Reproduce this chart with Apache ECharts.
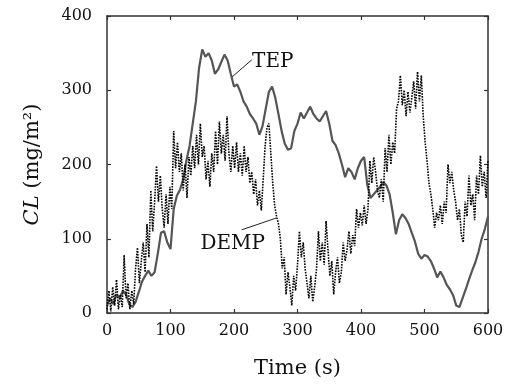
<!DOCTYPE html>
<html>
<head>
<meta charset="utf-8">
<script src="https://cdn.jsdelivr.net/npm/echarts@6/dist/echarts.min.js"></script>
<style>
html,body{margin:0;padding:0;background:#fff;}
#chart{width:508px;height:385px;}
</style>
</head>
<body>
<div id="chart"></div>
<script>
// Time step (s) of each sampled series
const tepStep = 5;
const dempStep = 3;

// TEP concentration, sampled every 5 s from t = 0 to 600
const tepValues = [
  10,20,12,25,20,30,25,12,8,15,
  28,42,50,57,50,55,80,108,110,95,
  86,140,158,166,180,205,225,255,285,330,
  355,345,350,340,322,328,338,348,340,322,
  305,308,298,285,278,268,262,255,240,252,
  275,298,305,290,268,245,228,220,222,245,
  255,270,262,270,278,268,262,258,265,272,
  255,232,226,215,200,183,195,190,180,195,
  205,210,172,155,160,165,170,176,172,160,
  135,106,125,133,128,120,108,96,80,73,
  78,76,70,60,48,56,48,38,32,24,
  10,8,20,32,45,57,68,82,100,113,
  130
];

// DEMP concentration, sampled every 3 s from t = 0 to 600
const dempValues = [
  5,30,2,35,10,45,5,25,8,78,
  20,40,5,30,12,60,88,40,70,95,
  55,120,75,165,110,150,198,150,185,140,
  115,160,120,170,140,245,195,230,190,215,
  165,200,155,210,185,225,195,240,200,255,
  210,225,180,205,170,215,190,245,200,258,
  215,240,205,265,215,190,225,195,230,190,
  215,185,225,190,210,175,190,160,180,145,
  165,138,180,225,250,255,215,175,145,130,
  120,100,60,75,25,55,35,10,50,30,
  65,110,75,95,60,40,20,50,15,35,
  60,110,70,95,65,124,85,50,70,25,
  55,75,40,55,95,70,85,110,80,105,
  90,140,115,135,118,145,120,140,205,175,
  210,190,165,155,180,150,222,190,240,200,
  230,215,275,285,320,280,300,265,298,270,
  290,312,275,325,285,320,265,230,205,175,
  160,140,115,135,125,145,120,150,135,200,
  175,190,165,150,125,140,105,95,150,130,
  185,145,160,125,185,160,212,170,190,155,
  205
];

// Axis ticks
const xTicks = [0,100,200,300,400,500,600];
const yTicks = [0,100,200,300,400];

// Annotations: [label, text position [t, value], leader start [t, value], leader end [t, value]]
const tepLabel = ['TEP', [261, 338], [197, 318], [228, 341]];
const dempLabel = ['DEMP', [198, 93], [212, 112], [267, 128]];

const tepData = tepValues.map((v, i) => [i * tepStep, v]);
const dempData = dempValues.map((v, i) => [i * dempStep, v]);

const FONT = 'DejaVu Serif';
const AX = '#333';

const chart = echarts.init(document.getElementById('chart'), null, {renderer: 'canvas'});

function baseX(show) {
  return {
    type: 'value', min: xTicks[0], max: xTicks[xTicks.length - 1], interval: 100,
    axisLine: {show: true, onZero: false, lineStyle: {color: AX, width: 1.5}},
    axisTick: {show: true, inside: true, length: 4, lineStyle: {color: AX, width: 1.2}},
    splitLine: {show: false},
    axisLabel: {show: show, fontFamily: FONT, fontSize: 16, color: '#111', margin: 10}
  };
}
function baseY(show) {
  return {
    type: 'value', min: yTicks[0], max: yTicks[yTicks.length - 1], interval: 100,
    axisLine: {show: true, onZero: false, lineStyle: {color: AX, width: 1.5}},
    axisTick: {show: true, inside: true, length: 4, lineStyle: {color: AX, width: 1.2}},
    splitLine: {show: false},
    axisLabel: {show: show, fontFamily: FONT, fontSize: 16, color: '#111', margin: 15}
  };
}

const xMain = Object.assign(baseX(true), {
  position: 'bottom',
  name: 'Time (s)', nameLocation: 'middle', nameGap: 45,
  nameTextStyle: {fontFamily: FONT, fontSize: 21, color: '#111'}
});
const xTop = Object.assign(baseX(false), {position: 'top'});
const yMain = Object.assign(baseY(true), {
  position: 'left',
  name: '{i|CL} (mg/m²)', nameLocation: 'middle', nameGap: 64,
  nameTextStyle: {
    fontFamily: FONT, fontSize: 21, color: '#111',
    rich: {i: {fontFamily: FONT, fontSize: 21, fontStyle: 'italic', color: '#111'}}
  }
});
const yRight = Object.assign(baseY(false), {position: 'right'});

function annot(a) {
  return {
    markLine: {
      silent: true, symbol: ['none', 'none'],
      lineStyle: {color: '#222', width: 1, type: 'solid'},
      label: {show: false},
      data: [[{coord: a[2]}, {coord: a[3]}]]
    },
    markPoint: {
      silent: true, symbol: 'circle', symbolSize: 0,
      label: {show: true, position: 'inside', formatter: a[0],
        fontFamily: FONT, fontSize: 20, color: '#111'},
      data: [{coord: a[1]}]
    }
  };
}

chart.setOption({
  animation: false,
  backgroundColor: '#fff',
  grid: {left: 107, right: 20, top: 16, bottom: 72},
  xAxis: [xMain, xTop],
  yAxis: [yMain, yRight],
  series: [
    Object.assign({
      name: 'TEP', type: 'line', data: tepData, xAxisIndex: 0, yAxisIndex: 0,
      showSymbol: false, symbol: 'none',
      lineStyle: {color: '#555', width: 2.2},
      z: 2
    }, annot(tepLabel)),
    Object.assign({
      name: 'DEMP', type: 'line', data: dempData, xAxisIndex: 0, yAxisIndex: 0,
      showSymbol: false, symbol: 'none',
      lineStyle: {color: '#000', width: 1.6, type: [1.6, 1.2]},
      z: 3
    }, annot(dempLabel))
  ]
});
</script>
</body>
</html>
